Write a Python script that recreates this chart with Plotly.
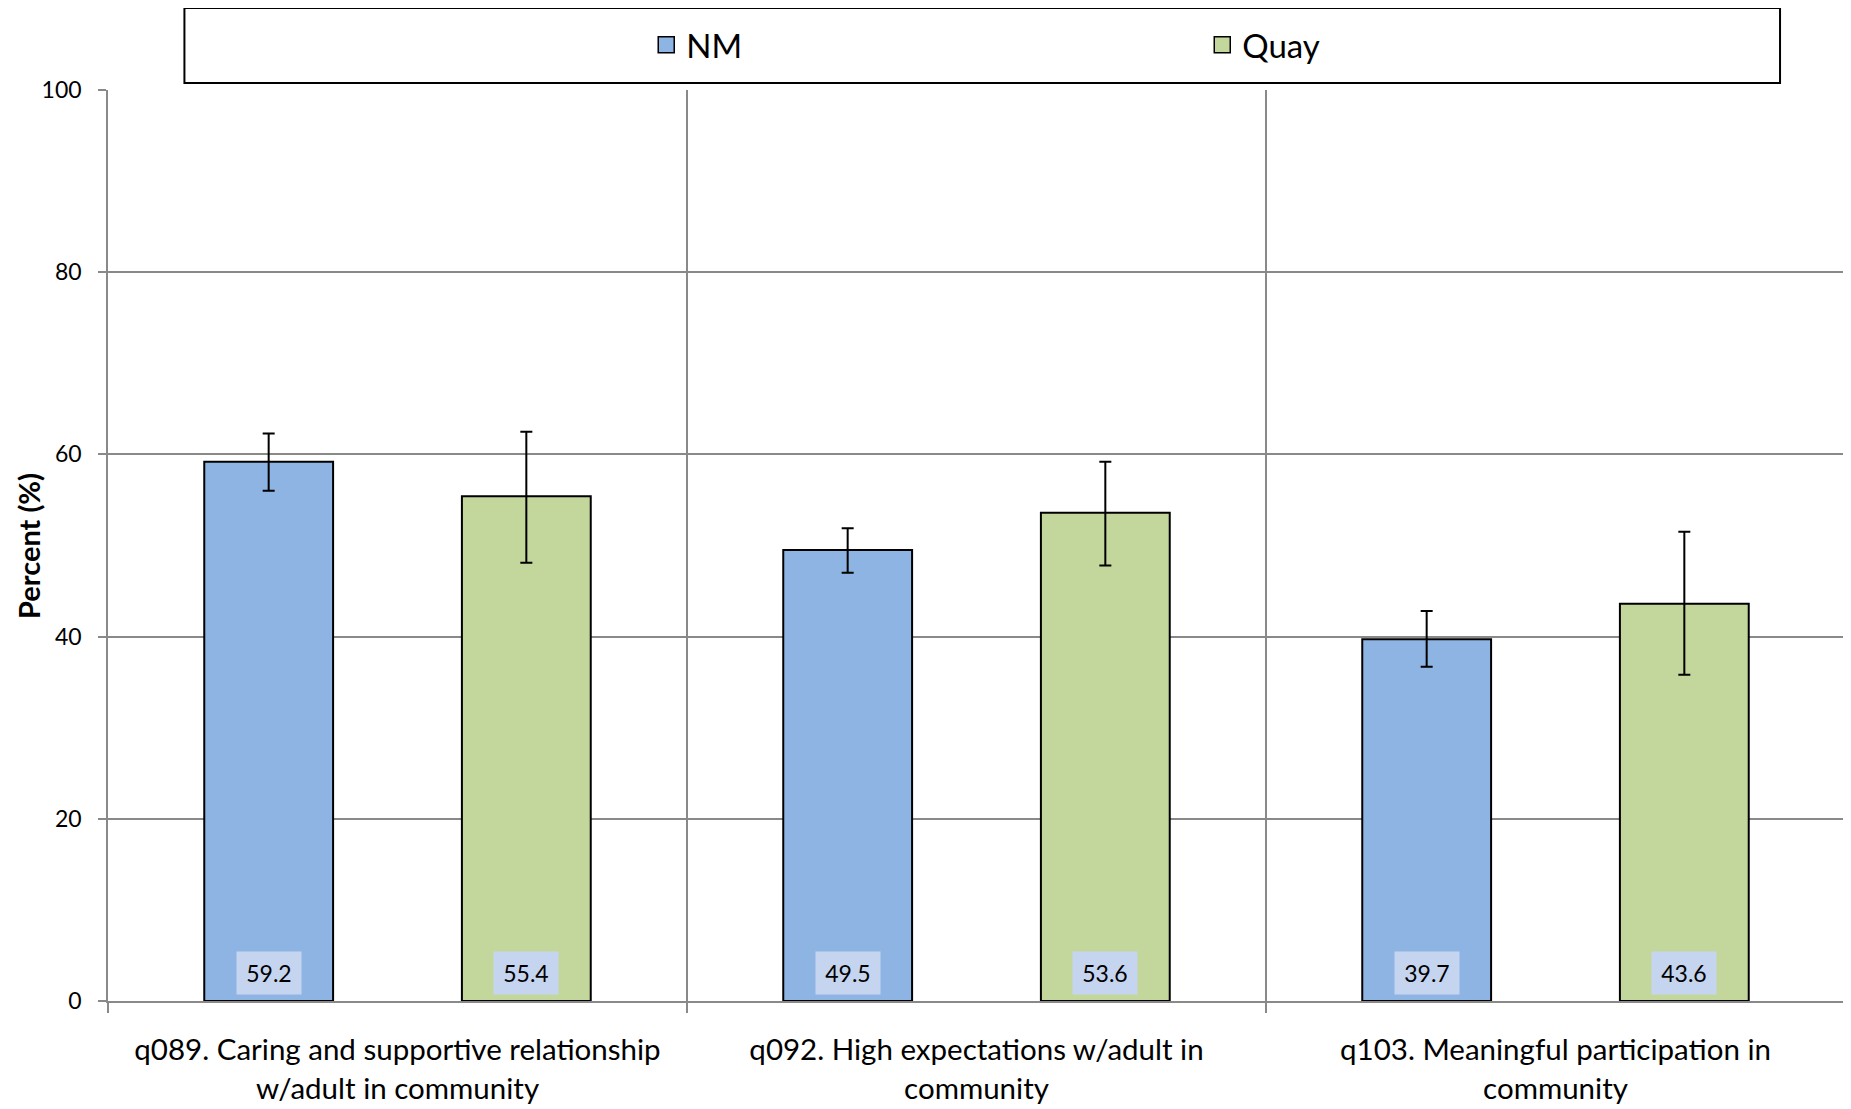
import plotly.graph_objects as go

categories = [
    "q089. Caring and supportive relationship<br>w/adult in community",
    "q092. High expectations w/adult in<br>community",
    "q103. Meaningful participation in<br>community",
]
series_names = ["NM", "Quay"]
nm_values = [59.2, 49.5, 39.7]
nm_upper = [62.3, 51.9, 42.8]
nm_lower = [56.0, 47.0, 36.7]
quay_values = [55.4, 53.6, 43.6]
quay_upper = [62.5, 59.2, 51.5]
quay_lower = [48.1, 47.8, 35.8]
y_ticks = [0, 20, 40, 60, 80, 100]
y_title = "Percent (%)"

FONT = "Lato"
BARGAP = 0.11
BARGROUPGAP = 0.5
colors = {"NM": "#8EB4E3", "Quay": "#C3D69B"}
W, H = 1843, 1101

fig = go.Figure()
series = [
    ("NM", nm_values, nm_upper, nm_lower, "legend"),
    ("Quay", quay_values, quay_upper, quay_lower, "legend2"),
]
for name, vals, up, lo, lg in series:
    fig.add_trace(go.Bar(
        name=name, x=categories, y=vals, showlegend=False,
        marker=dict(color=colors[name], line=dict(color="black", width=2)),
        error_y=dict(type="data", symmetric=False,
                     array=[u - v for u, v in zip(up, vals)],
                     arrayminus=[v - l for v, l in zip(vals, lo)],
                     color="black", thickness=2, width=6),
    ))
    # legend entry (larger square swatch)
    fig.add_trace(go.Scatter(
        name=name, x=[None], y=[None], mode="markers", showlegend=True,
        marker=dict(symbol="square", size=18, color=colors[name],
                    line=dict(color="black", width=1.5)),
        legend=lg, hoverinfo="skip",
    ))

# value labels at bar bases
half = (1 - BARGAP) / 4
for si, (name, vals, _, _, _) in enumerate(series):
    sign = -1 if si == 0 else 1
    for i, v in enumerate(vals):
        fig.add_annotation(
            x=i + sign * half, y=0, xref="x", yref="y",
            text=f"{v:.1f}", showarrow=False, yanchor="bottom", yshift=6,
            width=64, height=42, bgcolor="#C5D5EF", borderpad=0,
            font=dict(family=FONT, size=23, color="black"),
        )

# y-axis title
fig.add_annotation(
    xref="paper", yref="paper", x=-0.0458, y=0.5,
    xanchor="center", yanchor="middle", textangle=-90, showarrow=False,
    text=f"<b>{y_title}</b>", font=dict(family=FONT, size=29, color="black"),
)

# legend frame
fig.add_shape(type="rect", xref="paper", yref="paper",
              x0=0.044, x1=0.9626, y0=1.0077, y1=1.09,
              line=dict(color="black", width=2), fillcolor="white", layer="below")

legend_common = dict(yref="container", y=0.9665, xref="container",
                     xanchor="left", yanchor="middle",
                     bgcolor="rgba(0,0,0,0)", borderwidth=0,
                     font=dict(family=FONT, size=33, color="black"))

fig.update_layout(
    width=W, height=H,
    margin=dict(l=99.5, r=6, t=82, b=108, autoexpand=False),
    paper_bgcolor="white", plot_bgcolor="white",
    showlegend=True,
    barmode="group", bargap=BARGAP, bargroupgap=BARGROUPGAP,
    font=dict(family=FONT, color="black"),
    legend=dict(x=0.3463, **legend_common),
    legend2=dict(x=0.648, **legend_common),
    xaxis=dict(
        type="category", tickson="boundaries", showgrid=True,
        gridcolor="#898989", gridwidth=1.5,
        showline=True, linecolor="#898989", linewidth=1.5,
        ticks="outside", ticklen=10, tickcolor="#898989", tickwidth=1.5,
        tickfont=dict(family=FONT, size=29.5, color="black"),
        ticklabelstandoff=22, automargin=False,
    ),
    yaxis=dict(
        range=[0, 100], tickvals=y_ticks, showgrid=True,
        gridcolor="#898989", gridwidth=1.5,
        showline=True, linecolor="#898989", linewidth=1.5,
        ticks="outside", ticklen=8, tickcolor="#898989", tickwidth=1.5,
        tickfont=dict(family=FONT, size=23, color="black"),
        ticklabelstandoff=12, automargin=False,
        zeroline=False,
    ),
)

fig.write_html("out.html")
